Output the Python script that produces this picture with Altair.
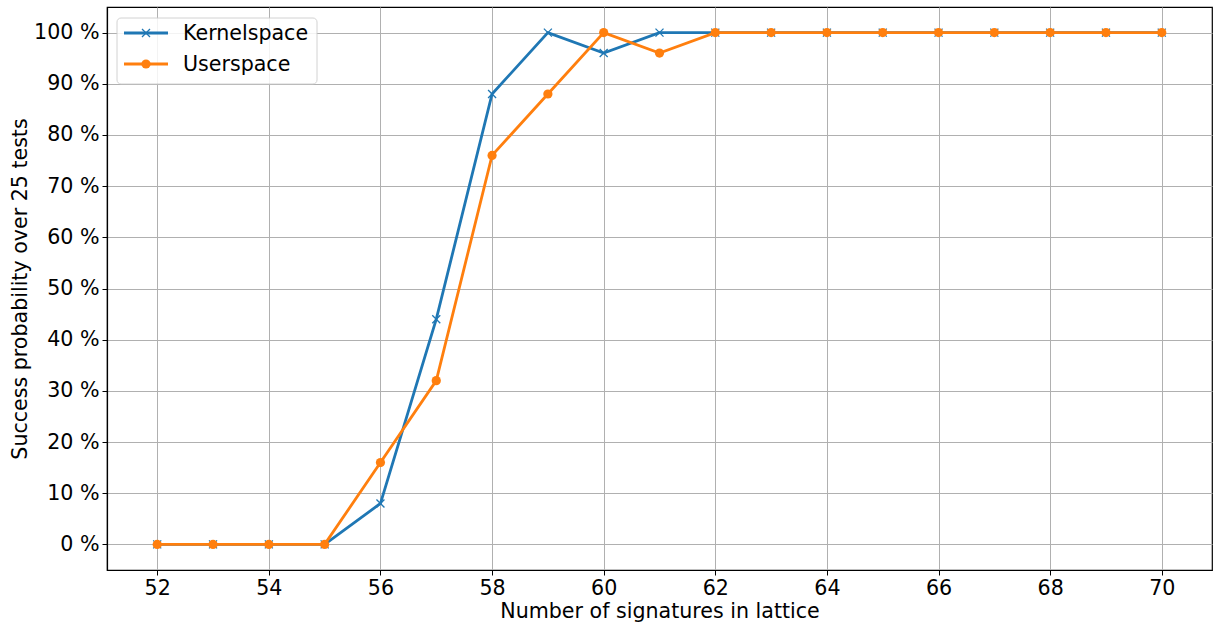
import altair as alt
import pandas as pd

signatures = list(range(52, 71))
kernelspace = [0, 0, 0, 0, 8, 44, 88, 100, 96, 100, 100, 100, 100, 100, 100, 100, 100, 100, 100]
userspace = [0, 0, 0, 0, 16, 32, 76, 88, 100, 96, 100, 100, 100, 100, 100, 100, 100, 100, 100]
series_names = ["Kernelspace", "Userspace"]
series_colors = ["#1f77b4", "#ff7f0e"]
x_ticks = list(range(52, 71, 2))
y_ticks = list(range(0, 101, 10))

FONT = "DejaVu Sans"
FS = 20.6
LW = 2.8
W, H = 1105, 563

kdf = pd.DataFrame({"n": signatures, "p": kernelspace, "series": series_names[0]})
udf = pd.DataFrame({"n": signatures, "p": userspace, "series": series_names[1]})

xs = alt.Scale(domain=[51.1, 70.9], nice=False, zero=False)
ys = alt.Scale(domain=[-5, 105], nice=False, zero=False)

xenc = alt.X("n:Q", scale=xs,
             axis=alt.Axis(values=x_ticks, title="Number of signatures in lattice",
                           grid=True, format="d"))
yenc = alt.Y("p:Q", scale=ys,
             axis=alt.Axis(values=y_ticks, title="Success probability over 25 tests",
                           grid=True, labelExpr="datum.value + ' %'"))

k_line = alt.Chart(kdf).mark_line(color=series_colors[0], strokeWidth=LW).encode(x=xenc, y=yenc)
k_pts = alt.Chart(kdf).mark_point(shape="M-1,-1L1,1M-1,1L1,-1", filled=False,
                                   color=series_colors[0], strokeWidth=1.3, size=64,
                                   opacity=1).encode(x=xenc, y=yenc)
u_line = alt.Chart(udf).mark_line(color=series_colors[1], strokeWidth=LW).encode(x=xenc, y=yenc)
u_pts = alt.Chart(udf).mark_circle(color=series_colors[1], size=85, opacity=1).encode(x=xenc, y=yenc)

# legend (decoration, positioned in pixels inside the plot)
base = alt.Chart(pd.DataFrame({"a": [0]}))
box = base.mark_rect(fill="white", stroke="#cccccc", strokeWidth=1, cornerRadius=4,
                     opacity=0.85).encode(x=alt.value(10), x2=alt.value(210),
                                          y=alt.value(11), y2=alt.value(77))
legend_layers = [box]
for i, (name, col) in enumerate(zip(series_names, series_colors)):
    yy = 26 + i * 31
    legend_layers.append(base.mark_rule(color=col, strokeWidth=LW).encode(
        x=alt.value(17), x2=alt.value(61), y=alt.value(yy)))
    if i == 0:
        legend_layers.append(base.mark_point(shape="M-1,-1L1,1M-1,1L1,-1", filled=False,
                                             color=col, strokeWidth=1.3, size=64, opacity=1)
                             .encode(x=alt.value(39), y=alt.value(yy)))
    else:
        legend_layers.append(base.mark_circle(color=col, size=85, opacity=1)
                             .encode(x=alt.value(39), y=alt.value(yy)))
    legend_layers.append(base.mark_text(text=name, align="left", baseline="middle",
                                        font=FONT, fontSize=FS, color="black")
                         .encode(x=alt.value(76), y=alt.value(yy + 1)))

chart = alt.layer(k_line, k_pts, u_line, u_pts, *legend_layers).properties(
    width=W, height=H,
    autosize=alt.AutoSizeParams(type="none"),
    padding={"left": 107, "top": 7, "right": 1, "bottom": 55},
    background="white",
).configure_view(stroke="black", strokeWidth=1.2).configure_axis(
    labelFont=FONT, titleFont=FONT, labelFontSize=FS, titleFontSize=FS,
    labelColor="black", titleColor="black", titleFontWeight="normal",
    domainColor="black", domainWidth=1.2, tickColor="black", tickSize=5, tickWidth=1,
    gridColor="#b0b0b0", gridWidth=1, labelPadding=3,
).configure_axisX(titlePadding=3).configure_axisY(titlePadding=3)

chart.save("out.html", embed_options={"renderer": "svg", "actions": False})
